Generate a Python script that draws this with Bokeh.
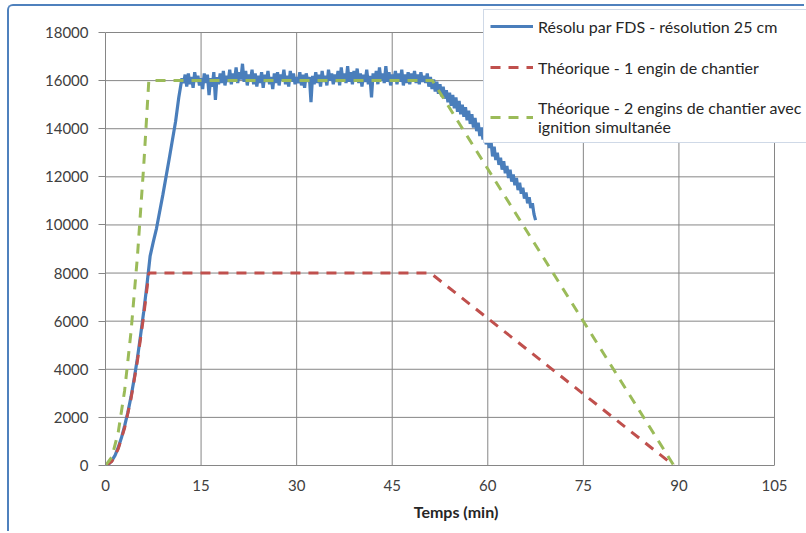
from math import pi
from bokeh.plotting import figure
from bokeh.models import Range1d, FixedTicker, Legend, LegendItem, Label
from bokeh.embed import file_html
from bokeh.resources import INLINE

# ---------------- data ----------------
x_ticks = [0, 15, 30, 45, 60, 75, 90, 105]
y_ticks = [0, 2000, 4000, 6000, 8000, 10000, 12000, 14000, 16000, 18000]
x_max = 105
y_max = 18000

# Résolu par FDS - ramp up
fds_ramp_t = [0, 0.5, 1, 1.5, 2, 2.5, 3, 3.5, 4, 4.5, 5, 5.5, 6, 6.5, 7, 7.5, 8, 9, 10, 11, 11.5, 12]
fds_ramp_q = [0, 60, 200, 420, 750, 1150, 1650, 2200, 2850, 3600, 4450, 5400, 6400, 7500, 8700,
              9300, 9850, 11250, 12750, 14300, 15300, 16100]

# Résolu par FDS - plateau + decline, sampled every 0.25 min from 12.25 min
fds_step = 0.25
fds_start = 12.25
fds_q = [
    15900, 16250, 15750, 16300, 15850, 16150, 15700, 16350, 15950, 16200, 15800, 16100,
    15650, 16300, 15900, 16250, 15400, 16100, 15750, 16350, 15200, 16150, 15850, 16300,
    15900, 16400, 15800, 16200, 15950, 16450, 15850, 16300, 16000, 16550, 15900, 16350,
    16050, 16700, 15950, 16400, 15800, 16250, 16000, 16450, 15850, 16300, 15750, 16200,
    15900, 16350, 15700, 16250, 15950, 16400, 15850, 16150, 15650, 16300, 15900, 16350,
    15800, 16250, 16000, 16450, 15850, 16200, 15750, 16400, 15950, 16300, 15850, 16150,
    15900, 16350, 15800, 16250, 15700, 16300, 15950, 16150, 15100, 16200, 15850, 16350,
    15900, 16250, 15750, 16400, 15950, 16200, 15800, 16450, 16000, 16300, 15850, 16250,
    15950, 16400, 15800, 16550, 16000, 16300, 15900, 16600, 15950, 16350, 15850, 16400,
    16000, 16500, 15900, 16300, 15750, 16250, 15950, 16450, 15850, 16200, 15300, 16300,
    15950, 16400, 15850, 16550, 16000, 16300, 15900, 16600, 15950, 16350, 15800, 16250,
    16000, 16400, 15850, 16300, 15950, 16450, 15800, 16250, 15900, 16350, 15850, 16300,
    15950, 16400, 15900, 16250, 15850, 16350, 15950, 16200,
    15900, 16300, 15750, 16150, 15650, 16050, 15550, 15950, 15450, 15850, 15350, 15750,
    15250, 15600, 15100, 15500, 14950, 15400, 14850, 15300, 14700, 15150, 14600, 15000,
    14500, 14900, 14350, 14750, 14200, 14600, 14050, 14450, 13900, 14250, 13700, 14050,
    13550, 13900, 13350, 13700, 13200, 13500, 12850, 13250, 12700, 13000, 12500, 12800,
    12300, 12650, 12150, 12450, 11950, 12300, 11800, 12100, 11650, 11950, 11450, 11750,
    11300, 11550, 11100, 11350, 10900, 11150, 10700, 10900, 10450, 10200,
]

# Théorique - 1 engin de chantier
th1_t = [0, 1, 2, 3, 4, 5, 6, 6.8, 51.0, 89.2]
th1_q = [0, 170, 690, 1560, 2770, 4330, 6230, 8000, 8000, 0]

# Théorique - 2 engins de chantier avec ignition simultanée
th2_t = [0, 1, 2, 3, 4, 5, 6, 6.8, 51.3, 89.2]
th2_q = [0, 350, 1380, 3110, 5540, 8650, 12460, 16000, 16000, 0]

labels = ["Résolu par FDS - résolution 25 cm",
          "Théorique - 1 engin de chantier",
          "Théorique - 2 engins de chantier avec\nignition simultanée"]

# ---------------- figure ----------------
fds_t = list(fds_ramp_t) + [fds_start + fds_step * i for i in range(len(fds_q))]
fds_all = list(fds_ramp_q) + fds_q

FONT = "Lato"
GRID = "#868686"
TXT = "#404040"

# frame: 0 min at x=105px, 105 min at x=774px; 0 kW at y=465px, 18000 kW at y=32px (page)
# the frame is extended to the canvas top / right edge so that the legend is not clipped
PX_X = (774 - 105) / x_max
PX_Y = (465 - 32) / y_max
x_end = (806 - 105) / PX_X
y_end = (465 - 6) / PX_Y

p = figure(width=797, height=527, x_range=Range1d(0, x_end), y_range=Range1d(0, y_end),
           output_backend="svg", toolbar_location=None,
           min_border_left=96, min_border_right=0, min_border_top=0, min_border_bottom=68)
p.styles = {"margin-left": "7px", "margin-top": "4px",
            "border-left": "2px solid #4f81bd", "border-top": "2px solid #4f81bd",
            "border-top-left-radius": "6px"}
p.outline_line_color = None
p.background_fill_color = "white"
p.border_fill_color = "white"
p.xgrid.visible = False
p.ygrid.visible = False

# grid lines, limited to the data area
p.segment(x0=x_ticks[1:], y0=[0] * (len(x_ticks) - 1), x1=x_ticks[1:], y1=[y_max] * (len(x_ticks) - 1),
          line_color=GRID, line_width=1)
p.segment(x0=[0] * (len(y_ticks) - 1), y0=y_ticks[1:], x1=[x_max] * (len(y_ticks) - 1), y1=y_ticks[1:],
          line_color=GRID, line_width=1)

p.xaxis.ticker = FixedTicker(ticks=x_ticks)
p.yaxis.ticker = FixedTicker(ticks=y_ticks)
p.xaxis.bounds = (0, x_max)
p.yaxis.bounds = (0, y_max)

for ax in (p.xaxis[0], p.yaxis[0]):
    ax.axis_line_color = GRID
    ax.major_tick_line_color = GRID
    ax.minor_tick_line_color = None
    ax.major_tick_in = 0
    ax.major_label_text_font = FONT
    ax.major_label_text_font_size = "15px"
    ax.major_label_text_color = TXT
p.yaxis.major_tick_out = 7
p.yaxis.major_label_standoff = 10
p.xaxis.major_tick_out = 0
p.xaxis.major_label_standoff = 14
p.yaxis.formatter.use_scientific = False

p.xaxis.axis_label = "Temps (min)"
p.xaxis.axis_label_text_font = FONT
p.xaxis.axis_label_text_font_style = "bold"
p.xaxis.axis_label_text_font_size = "16px"
p.xaxis.axis_label_text_color = "#262626"
p.xaxis.axis_label_standoff = 8

ylab = Label(x=-77, y=217, x_units="screen", y_units="screen", text="Puissance dégagée (kW)",
             angle=pi / 2, text_align="center", text_baseline="middle",
             text_font=FONT, text_font_style="bold", text_font_size="16px", text_color="#262626")
p.add_layout(ylab)

r_fds = p.line(fds_t, fds_all, line_color="#4a7ebb", line_width=3.2)
r_th1 = p.line(th1_t, th1_q, line_color="#c0504d", line_width=3, line_dash="10 8")
r_th2 = p.line(th2_t, th2_q, line_color="#9bbb59", line_width=3, line_dash="10 8")

legend = Legend(items=[LegendItem(label=labels[0], renderers=[r_fds]),
                       LegendItem(label=labels[1], renderers=[r_th1]),
                       LegendItem(label=labels[2], renderers=[r_th2])],
                location=(378, 322))
legend.label_text_font = FONT
legend.label_text_font_size = "16px"
legend.label_text_color = "#262626"
legend.label_text_line_height = 1.3
legend.glyph_width = 43
legend.glyph_height = 20
legend.label_height = 20
legend.label_standoff = 5
legend.spacing = 21
legend.padding = 6
legend.margin = 0
legend.border_line_color = "#9fb3cf"
legend.border_line_width = 1
legend.background_fill_color = "white"
legend.background_fill_alpha = 1
p.add_layout(legend)

open("out.html", "w").write(file_html(p, INLINE))
